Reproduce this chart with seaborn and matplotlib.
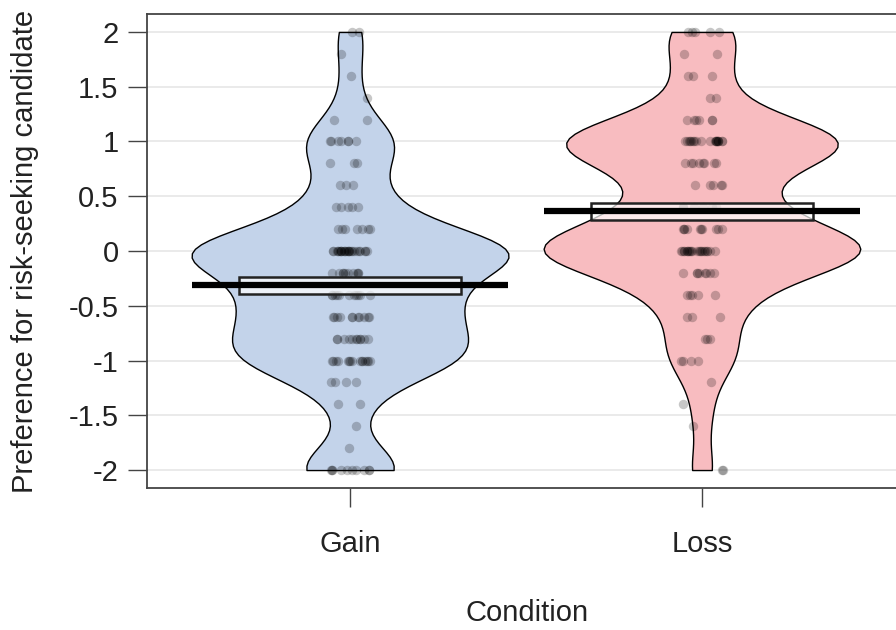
import numpy as np
import pandas as pd
import matplotlib
matplotlib.use("Agg")
import matplotlib.pyplot as plt
from matplotlib.patches import Rectangle
import seaborn as sns

# Response scale (steps of 0.2 from 2 down to -2)
levels = [2.0, 1.8, 1.6, 1.4, 1.2, 1.0, 0.8, 0.6, 0.4, 0.2, 0.0,
          -0.2, -0.4, -0.6, -0.8, -1.0, -1.2, -1.4, -1.6, -1.8, -2.0]
# Number of participants giving each response
gain_counts = [2, 1, 1, 1, 2, 7, 3, 3, 5, 7, 26,
               10, 11, 11, 11, 15, 4, 2, 1, 1, 10]
loss_counts = [5, 2, 3, 2, 6, 20, 8, 5, 6, 10, 22,
               8, 5, 3, 3, 4, 1, 1, 1, 0, 2]
conditions = ["Gain", "Loss"]
fill_colors = ["#c3d3ea", "#f8bcc0"]

df = pd.concat([
    pd.DataFrame({"Condition": "Gain", "pref": np.repeat(levels, gain_counts)}),
    pd.DataFrame({"Condition": "Loss", "pref": np.repeat(levels, loss_counts)}),
], ignore_index=True)

sns.set_theme(style="white")
plt.rcParams["font.family"] = ["Liberation Sans", "DejaVu Sans"]

fig = plt.figure(figsize=(8.96, 6.30), dpi=100)
ax = fig.add_axes([147 / 896, 1 - 488 / 630, (905 - 147) / 896, (488 - 14) / 630])

# light horizontal reference lines
for yv in np.arange(-2, 2.01, 0.5):
    ax.axhline(yv, color="#e6e6e6", lw=1.2, zorder=0)

sns.violinplot(data=df, x="Condition", y="pref", order=conditions,
               hue="Condition", palette=fill_colors, legend=False,
               cut=0, density_norm="width", width=0.9, bw_adjust=0.62,
               inner=None, linewidth=1.0, linecolor="black", saturation=1,
               ax=ax, zorder=1)

np.random.seed(3)
sns.stripplot(data=df, x="Condition", y="pref", order=conditions,
              color="black", alpha=0.22, size=6.8, jitter=0.06,
              linewidth=0, ax=ax, zorder=2)

# mean line with an interval band around it
for i, cond in enumerate(conditions):
    vals = df.loc[df["Condition"] == cond, "pref"].to_numpy()
    m = vals.mean()
    se = vals.std(ddof=1) / np.sqrt(len(vals))
    ax.add_patch(Rectangle((i - 0.315, m - se), 0.63, 2 * se,
                           facecolor="white", alpha=0.7,
                           edgecolor="none", zorder=3))
    ax.add_patch(Rectangle((i - 0.315, m - se), 0.63, 2 * se,
                           facecolor="none", edgecolor="#222222",
                           lw=1.8, zorder=4))
    ax.plot([i - 0.45, i + 0.45], [m, m], color="black", lw=4.5,
            solid_capstyle="butt", zorder=5)

ax.set_xlim(-0.577, 1.577)
ax.set_ylim(-2.164, 2.164)
ax.set_yticks(np.arange(-2, 2.01, 0.5))
ax.set_yticklabels(["-2", "-1.5", "-1", "-0.5", "0", "0.5", "1", "1.5", "2"])

for s in ["left", "bottom", "top"]:
    ax.spines[s].set_visible(True)
    ax.spines[s].set_color("#444444")
    ax.spines[s].set_linewidth(1.3)
ax.spines["right"].set_visible(False)

ax.tick_params(axis="both", which="major", length=13.5, width=1.0,
               color="#444444", labelsize=21, labelcolor="#222222",
               left=True, bottom=True, direction="out")
ax.tick_params(axis="x", pad=17)
ax.tick_params(axis="y", pad=7)

ax.set_xlabel("Condition", fontsize=21, color="#222222")
ax.set_ylabel("Preference for risk-seeking candidate", fontsize=21,
              color="#222222")
ax.xaxis.set_label_coords((527 - 147) / 758, (488 - 613) / 474)
ax.xaxis.label.set_va("center")
ax.yaxis.set_label_coords((25 - 147) / 758, 0.5)
ax.yaxis.label.set_va("center")

fig.savefig("out.png", dpi=100)
